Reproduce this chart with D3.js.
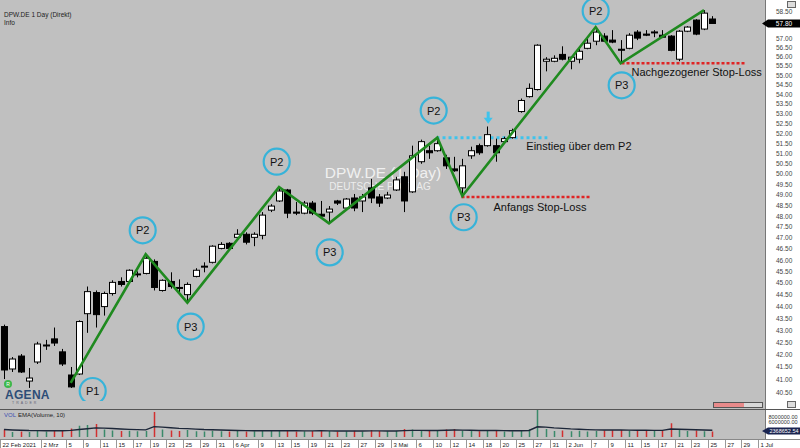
<!DOCTYPE html>
<html><head><meta charset="utf-8">
<script src="https://cdn.jsdelivr.net/npm/d3@7"></script>
<style>
body{margin:0;background:#c0c0c0;overflow:hidden}
svg{display:block;font-family:"Liberation Sans",Arial,sans-serif}
</style></head><body>
<svg id="chart" width="800" height="448"></svg>
<script>
// ---------- DATA (trading-day index: 22 Feb 2021 = 0) ----------
const firstIndex = 1; // first drawn candle = 23 Feb 2021
const opens  = [43.14,41.41,41.93,40.93,41.69,42.35,42.63,42.10,41.17,41.21,43.68,44.58,43.98,44.54,45.06,45.06,45.35,45.41,45.94,44.67,45.06,44.80,44.49,45.28,45.71,45.90,46.52,46.75,47.02,47.16,47.02,47.11,48.27,48.70,49.22,48.18,48.13,48.60,48.08,48.18,48.70,48.37,48.84,48.70,49.32,48.89,48.84,49.22,49.85,49.13,50.58,51.12,51.12,50.77,50.23,49.32,50.87,51.37,51.37,51.37,51.57,51.77,53.09,53.86,54.23,55.73,55.73,56.10,55.73,55.84,56.43,56.82,57.10,56.88,56.38,56.43,57.32,57.21,57.30,57.15,57.10,55.84,57.37,57.99,57.49,58.05];
const highs  = [43.22,41.89,42.01,41.45,42.51,42.59,43.10,42.22,41.49,43.40,44.84,44.67,44.62,45.11,45.24,45.59,45.50,46.21,46.03,45.15,45.46,45.15,45.02,45.64,45.90,46.66,46.80,46.80,47.39,47.25,47.25,48.18,48.55,49.36,49.27,48.65,48.70,48.70,48.70,48.46,48.75,48.84,49.03,49.03,49.75,49.03,49.13,49.85,50.09,51.37,51.67,51.37,51.77,50.92,50.82,50.72,51.32,51.47,52.33,51.72,51.82,52.22,53.76,54.55,56.65,55.95,56.05,56.54,56.00,56.54,56.99,57.54,57.26,57.43,56.88,57.26,57.43,57.43,57.43,57.43,57.15,57.43,57.65,58.04,58.55,58.21];
const lows   = [41.01,41.29,41.25,40.66,41.61,42.18,42.34,41.53,40.66,41.17,42.88,43.10,43.60,44.45,44.84,45.02,45.24,45.37,44.67,44.62,44.75,44.58,44.17,45.24,45.46,45.85,46.48,46.45,46.98,46.70,46.62,46.93,48.18,48.65,47.90,48.04,48.08,48.04,47.94,47.68,48.51,48.32,48.22,48.18,48.60,48.42,48.79,49.17,48.18,49.08,50.48,50.72,51.07,50.23,50.09,48.93,50.72,50.92,51.32,50.58,51.52,51.72,53.03,53.81,54.18,55.19,55.68,55.78,55.30,55.62,56.38,56.60,56.77,56.71,55.62,56.38,56.88,57.10,57.04,56.99,56.27,55.73,57.32,57.15,57.43,57.82];
const closes = [41.37,41.81,41.29,41.05,42.42,42.38,42.46,41.61,40.70,43.35,44.62,43.64,44.54,45.02,44.93,45.55,45.39,46.08,44.80,45.11,44.84,44.78,44.93,45.55,45.73,46.62,46.70,46.52,47.16,46.80,47.16,48.04,48.46,49.17,48.13,48.13,48.60,48.13,47.99,48.32,48.60,48.79,48.37,48.89,48.84,48.60,48.98,49.70,48.70,50.87,51.57,51.02,51.47,50.38,50.14,50.38,51.12,51.02,51.92,51.02,51.72,52.12,53.66,54.29,56.60,55.84,55.89,55.84,55.95,56.27,56.71,57.32,56.82,56.77,56.35,57.15,56.99,57.15,57.33,57.04,56.32,57.37,57.60,57.21,58.38,57.80];
const volumes = [3.0,2.0,2.2,2.0,2.5,2.2,2.4,2.6,3.4,4.5,4.8,5.2,3.0,2.6,2.4,2.5,2.3,2.4,10.0,3.0,2.6,2.4,2.8,2.3,2.2,2.5,2.3,2.2,2.4,2.2,2.3,2.6,2.4,2.5,2.8,2.2,2.3,2.4,2.6,2.4,2.2,2.3,2.5,2.2,2.8,2.4,2.3,2.4,3.2,3.0,2.8,2.4,2.6,3.0,3.2,2.6,2.5,2.3,2.4,2.8,2.2,2.3,2.6,3.0,10.8,3.2,2.4,2.6,2.3,2.5,2.2,2.4,2.6,2.7,2.8,2.5,2.6,2.8,2.4,2.6,5.5,2.8,2.4,2.6,2.3,2.2]; // millions
const priceTicks = d3.range(40.5, 58.51, 0.5);
const volTicks = [8000000, 6000000];
const lastPrice = 57.80;
const lastEma = 2368652.54;
const dateTicks = [[0,"22 Feb 2021"],[6,"2 Mrz"],[9,"5"],[11,"9"],[13,"11"],[15,"15"],[17,"17"],[19,"19"],[21,"23"],[23,"25"],[25,"29"],[27,"31"],[29,"6 Apr"],[32,"9"],[34,"13"],[36,"15"],[38,"19"],[40,"21"],[42,"23"],[44,"27"],[46,"29"],[48,"3 Mai"],[51,"6"],[53,"10"],[55,"12"],[57,"14"],[59,"18"],[61,"20"],[63,"25"],[65,"27"],[67,"31"],[69,"2 Jun"],[72,"7"],[74,"9"],[76,"11"],[78,"15"],[80,"17"],[82,"21"],[84,"23"],[86,"25"],[88,"27"],[90,"29"],[92,"1 Jul"]];
// zig-zag pivots (index, price)
const pivotIdx   = [9, 18, 23, 34, 40, 53, 56, 72, 75, 85];
const pivotPrice = [40.86, 46.26, 44.15, 49.36, 47.66, 51.77, 48.93, 57.60, 55.62, 58.55];
// labelled circles
const circleLabels = ["P1","P2","P3","P2","P3","P2","P3","P2","P3"];
const circleIdx    = [11.64, 17.64, 23.4, 33.72, 40.08, 52.56, 56.16, 72.0, 75.12];
const circlePrice  = [40.54, 47.34, 43.14, 50.58, 46.34, 53.14, 47.94, 58.50, 54.45];
// level lines
const entryLine   = {from: 52.9, to: 66.2, price: 51.77};
const initialStop = {from: 55.9, to: 71.4, price: 48.89};
const trailStop   = {from: 75.1, to: 89.9, price: 55.62};

// ---------- SETUP ----------
const svg = d3.select("#chart");
const W = 800, H = 448, plotRight = 765;
const x = d3.scaleLinear().domain([0, 92]).range([-4.3, -4.3 + 92 * 8.333]);
const y = d3.scaleLog().domain([40.5, 58.5]).range([392, 11]);
const yv = d3.scaleLinear().domain([0, 10e6]).range([437, 412]);

svg.append("rect").attr("width", W).attr("height", H).attr("fill", "#c0c0c0");

const candles = opens.map((o, i) => ({idx: firstIndex + i, o, h: highs[i], l: lows[i], c: closes[i], v: volumes[i] * 1e6}));

svg.append("clipPath").attr("id", "pclip").append("rect").attr("x", 0).attr("y", 0).attr("width", plotRight).attr("height", 401);
const plot = svg.append("g").attr("clip-path", "url(#pclip)");

// header
svg.append("text").attr("x", 4).attr("y", 17).attr("font-size", 6.5).attr("fill", "#222").text("DPW.DE 1 Day (Direkt)");
svg.append("text").attr("x", 4).attr("y", 25).attr("font-size", 6.5).attr("fill", "#222").text("Info");

// watermark
plot.append("text").attr("x", 383).attr("y", 178).attr("text-anchor", "middle").attr("font-size", 15.5).attr("fill", "#f6f6f6").attr("opacity", 0.9).text("DPW.DE (1 Day)");
plot.append("text").attr("x", 380).attr("y", 190).attr("text-anchor", "middle").attr("font-size", 10).attr("fill", "#f2f2f2").attr("opacity", 0.9).text("DEUTSCHE POST AG");

// level lines
function level(l, color, w, dash) {
  plot.append("line").attr("x1", x(l.from)).attr("x2", x(l.to)).attr("y1", y(l.price)).attr("y2", y(l.price))
    .attr("stroke", color).attr("stroke-width", w).attr("stroke-dasharray", dash);
}
level(entryLine, "#3ec3ec", 3, "3 3");
level(initialStop, "#e02424", 2.6, "3 2");
level(trailStop, "#e02424", 2.6, "3 2");

// candles
const bw = 6;
const cg = plot.append("g");
cg.selectAll("line.wick").data(candles).join("line")
  .attr("x1", d => Math.round(x(d.idx)) + 0.5).attr("x2", d => Math.round(x(d.idx)) + 0.5)
  .attr("y1", d => y(d.h)).attr("y2", d => y(d.l)).attr("stroke", "#000").attr("stroke-width", 1);
cg.selectAll("rect.body").data(candles).join("rect")
  .attr("x", d => Math.round(x(d.idx)) - bw / 2 + 0.5)
  .attr("y", d => y(Math.max(d.o, d.c)))
  .attr("width", bw)
  .attr("height", d => Math.max(1, y(Math.min(d.o, d.c)) - y(Math.max(d.o, d.c))))
  .attr("fill", d => d.c >= d.o ? "#fff" : "#000").attr("stroke", "#000").attr("stroke-width", 1);

// zigzag
const zz = pivotIdx.map((d, i) => [x(d), y(pivotPrice[i])]);
plot.append("path").attr("d", d3.line()(zz)).attr("fill", "none").attr("stroke", "#1f8a1f").attr("stroke-width", 2.6).attr("stroke-linejoin", "miter");

// circles
const circ = plot.selectAll("g.circ").data(circleLabels).join("g").attr("transform", (d, i) => `translate(${x(circleIdx[i])},${y(circlePrice[i])})`);
circ.append("circle").attr("r", 13).attr("fill", "none").attr("stroke", "#37b3d9").attr("stroke-width", 2.2);
circ.append("text").attr("text-anchor", "middle").attr("dy", 4).attr("font-size", 11).attr("fill", "#111").text(d => d);

// annotations
plot.append("text").attr("x", x(entryLine.to) - 21).attr("y", y(entryLine.price) + 12).attr("font-size", 11).attr("fill", "#111").text("Einstieg über dem P2");
plot.append("text").attr("x", x(initialStop.from) + 32).attr("y", y(initialStop.price) + 14).attr("font-size", 11).attr("fill", "#111").text("Anfangs Stop-Loss");
plot.append("text").attr("x", x(trailStop.from) + 10).attr("y", y(trailStop.price) + 13).attr("font-size", 11).attr("fill", "#111").text("Nachgezogener Stop-Loss");
// entry arrow
const ax = x(59.1), ay = y(entryLine.price) - 26;
plot.append("rect").attr("x", ax - 1.5).attr("y", ay).attr("width", 3).attr("height", 7).attr("fill", "#3ec3ec");
plot.append("path").attr("d", `M${ax - 4.5},${ay + 6} L${ax + 4.5},${ay + 6} L${ax},${ay + 12} Z`).attr("fill", "#3ec3ec");

// logo
svg.append("circle").attr("cx", 8).attr("cy", 384).attr("r", 4).attr("fill", "#3db84a");
svg.append("text").attr("x", 8).attr("y", 386).attr("text-anchor", "middle").attr("font-size", 5).attr("fill", "#fff").text("R");
svg.append("text").attr("x", 5).attr("y", 399).attr("font-size", 12).attr("font-weight", "bold").attr("fill", "#2d4d77").attr("letter-spacing", 0.3).text("AGENA");
svg.append("text").attr("x", 12).attr("y", 404).attr("font-size", 3.5).attr("fill", "#667").attr("letter-spacing", 2).text("TRADER");

// scroll indicator
svg.append("rect").attr("x", 713.5).attr("y", 402.5).attr("width", 49).attr("height", 5).attr("fill", "#d8d8d8").attr("stroke", "#555");
svg.append("rect").attr("x", 714).attr("y", 403).attr("width", 30).attr("height", 4).attr("fill", "#e88a8a");

// ---------- right price axis ----------
svg.append("rect").attr("x", plotRight).attr("y", 0).attr("width", W - plotRight).attr("height", 439).attr("fill", "#fff");
svg.append("line").attr("x1", plotRight + 0.5).attr("x2", plotRight + 0.5).attr("y1", 0).attr("y2", 439).attr("stroke", "#777");
const ly = y(lastPrice);
// labels hidden behind the last-price marker are not drawn
const visibleTicks = priceTicks.filter(p => Math.abs(y(p) - ly) > 7);
const yAxis = d3.axisRight(y).tickValues(visibleTicks).tickFormat(d3.format(".2f")).tickSize(0).tickPadding(8);
const ya = svg.append("g").attr("transform", `translate(${plotRight + 3},0)`).call(yAxis);
ya.select(".domain").remove();
ya.selectAll("text").attr("font-size", 6.5).attr("fill", "#444").attr("font-family", "Liberation Sans, Arial, sans-serif");
svg.append("path").attr("d", `M${plotRight - 3},${ly} L${plotRight + 3},${ly - 4} L${W},${ly - 4} L${W},${ly + 4} L${plotRight + 3},${ly + 4} Z`).attr("fill", "#000");
svg.append("text").attr("x", 784).attr("y", ly + 2.5).attr("text-anchor", "middle").attr("font-size", 6.5).attr("fill", "#fff").text(lastPrice.toFixed(2));
svg.append("rect").attr("x", 787.5).attr("y", 1.5).attr("width", 8).attr("height", 6).attr("fill", "#ddd").attr("stroke", "#666");
svg.append("rect").attr("x", 787.5).attr("y", 401.5).attr("width", 8).attr("height", 6).attr("fill", "#ddd").attr("stroke", "#666");

// ---------- volume panel ----------
svg.append("line").attr("x1", 0).attr("x2", W).attr("y1", 409.5).attr("y2", 409.5).attr("stroke", "#555");
svg.append("clipPath").attr("id", "vclip").append("rect").attr("x", 0).attr("y", 410).attr("width", plotRight).attr("height", 29);
const vg = svg.append("g").attr("clip-path", "url(#vclip)");
vg.selectAll("line.vol").data(candles).join("line")
  .attr("x1", d => Math.round(x(d.idx)) + 0.5).attr("x2", d => Math.round(x(d.idx)) + 0.5)
  .attr("y1", yv(0)).attr("y2", d => yv(d.v))
  .attr("stroke", d => d.c >= d.o ? "#3a8a6a" : "#d23030").attr("stroke-width", 1.5);
// EMA(Volume,10)
const k = 2 / 11; let e = candles[0].v;
const ema = candles.map(d => (e = d.v * k + e * (1 - k)));
vg.append("path").attr("d", d3.line().x((d, i) => x(candles[i].idx)).y(d => yv(d))(ema)).attr("fill", "none").attr("stroke", "#1c2638").attr("stroke-width", 1.4);
svg.append("text").attr("x", 4).attr("y", 417).attr("font-size", 6).attr("fill", "#3b4fb0").text("VOL");
svg.append("text").attr("x", 18).attr("y", 417).attr("font-size", 6).attr("fill", "#222").text("EMA(Volume, 10)");
volTicks.forEach(v => svg.append("text").attr("x", 783).attr("y", yv(v) + 2).attr("text-anchor", "middle").attr("font-size", 5.5).attr("fill", "#333").text(v.toFixed(2)));
const ey = yv(lastEma);
svg.append("path").attr("d", `M${plotRight - 3},${ey} L${plotRight + 3},${ey - 3.5} L${W},${ey - 3.5} L${W},${ey + 3.5} L${plotRight + 3},${ey + 3.5} Z`).attr("fill", "#1a2450");
svg.append("text").attr("x", 784).attr("y", ey + 2).attr("text-anchor", "middle").attr("font-size", 5.5).attr("fill", "#fff").text(lastEma.toFixed(2));

// ---------- date strip ----------
svg.append("rect").attr("x", 0).attr("y", 439).attr("width", W).attr("height", 9).attr("fill", "#fff");
svg.append("line").attr("x1", 0).attr("x2", W).attr("y1", 439.5).attr("y2", 439.5).attr("stroke", "#888");
const dg = svg.append("g");
dateTicks.forEach(([i, lab]) => {
  const tx = Math.max(0.5, Math.round(x(i) - 4.2) + 0.5);
  dg.append("line").attr("x1", tx).attr("x2", tx).attr("y1", 440).attr("y2", 448).attr("stroke", "#999");
  dg.append("text").attr("x", Math.max(1, tx + 2)).attr("y", 446.5).attr("font-size", 6).attr("fill", "#222").text(lab);
});
</script></body></html>
